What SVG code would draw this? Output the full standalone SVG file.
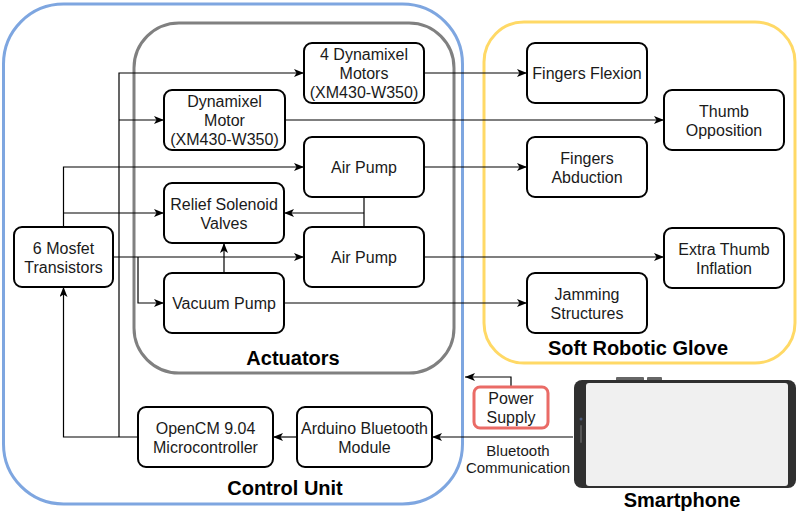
<svg xmlns="http://www.w3.org/2000/svg" width="803" height="512" viewBox="0 0 803 512">
<style>
.grp{fill:none;stroke-width:3}
.box{fill:#fff;stroke:#000;stroke-width:2}
.t{font-family:"Liberation Sans",Arial,sans-serif;font-size:16px;fill:#1a1a1a;text-anchor:middle}
.s{font-size:15px}
.b{font-family:"Liberation Sans",Arial,sans-serif;font-size:20px;font-weight:bold;fill:#000;text-anchor:middle}
.c{fill:none;stroke:#000;stroke-width:1.2}
.a{marker-end:url(#arr)}
</style>
<defs>
<marker id="arr" viewBox="0 0 10 8" refX="10" refY="4" markerWidth="10" markerHeight="8" markerUnits="userSpaceOnUse" orient="auto"><path d="M0,0 L10,4 L0,8 L2.5,4 z" fill="#000"/></marker>
</defs>

<g id="control-unit">
<rect class="grp" x="3.5" y="4" width="459" height="500" rx="60" stroke="#7EA6E0"/>
<text class="b" x="285" y="495">Control Unit</text>
</g>
<g id="actuators">
<rect class="grp" x="134" y="23" width="320" height="350" rx="45" stroke="#808080"/>
<text class="b" x="293" y="365">Actuators</text>
</g>
<g id="soft-robotic-glove">
<rect class="grp" x="484" y="22" width="311" height="341" rx="40" stroke="#FFD966"/>
<text class="b" x="638" y="355">Soft Robotic Glove</text>
</g>

<g id="connectors">
<path class="c a" d="M138,437 H63.5 V287"/>
<path class="c a" d="M119,437 V73 H304"/>
<path class="c a" d="M119,120 H164"/>
<path class="c a" d="M63.5,227 V167 H304"/>
<path class="c a" d="M63.5,213 H164"/>
<path class="c a" d="M113,257 H304"/>
<path class="c a" d="M138,257 V303 H164"/>
<path class="c a" d="M224,273 V243"/>
<path class="c" d="M364,197 V227"/>
<path class="c a" d="M364,213 H284"/>
<path class="c a" d="M424,73 H527"/>
<path class="c a" d="M285,120 H664"/>
<path class="c a" d="M424,167 H527"/>
<path class="c a" d="M424,257 H664"/>
<path class="c a" d="M284,303 H527"/>
<path class="c a" d="M297,437 H273"/>
<path class="c a" d="M573,437 H432"/>
<path class="c a" d="M511,387 V377 H465"/>
<text class="t s" x="518" y="456">Bluetooth</text>
<text class="t s" x="518" y="473">Communication</text>
</g>

<g id="dynamixel-4">
<rect class="box" x="304" y="43" width="120" height="60" rx="8"/>
<text class="t" x="364" y="59.5">4 Dynamixel</text>
<text class="t" x="364" y="78.5">Motors</text>
<text class="t" x="364" y="97.5">(XM430-W350)</text>
</g>
<g id="dynamixel-1">
<rect class="box" x="164" y="90" width="121" height="60" rx="8"/>
<text class="t" x="224.5" y="106.5">Dynamixel</text>
<text class="t" x="224.5" y="125.5">Motor</text>
<text class="t" x="224.5" y="144.5">(XM430-W350)</text>
</g>
<g id="air-pump-1">
<rect class="box" x="304" y="137" width="120" height="60" rx="8"/>
<text class="t" x="364" y="172.5">Air Pump</text>
</g>
<g id="relief-valves">
<rect class="box" x="164" y="183" width="120" height="60" rx="8"/>
<text class="t" x="224" y="209.5">Relief Solenoid</text>
<text class="t" x="224" y="228.5">Valves</text>
</g>
<g id="air-pump-2">
<rect class="box" x="304" y="227" width="120" height="60" rx="8"/>
<text class="t" x="364" y="262.5">Air Pump</text>
</g>
<g id="mosfet">
<rect class="box" x="14" y="227" width="99" height="60" rx="8"/>
<text class="t" x="63.5" y="253.5">6 Mosfet</text>
<text class="t" x="63.5" y="272.5">Transistors</text>
</g>
<g id="vacuum-pump">
<rect class="box" x="164" y="273" width="120" height="60" rx="8"/>
<text class="t" x="224" y="308.5">Vacuum Pump</text>
</g>
<g id="opencm">
<rect class="box" x="138" y="407" width="135" height="60" rx="8"/>
<text class="t" x="205.5" y="433.5">OpenCM 9.04</text>
<text class="t" x="205.5" y="452.5">Microcontroller</text>
</g>
<g id="arduino-bt">
<rect class="box" x="297" y="407" width="135" height="60" rx="8"/>
<text class="t" x="364.5" y="433.5" textLength="127" lengthAdjust="spacingAndGlyphs">Arduino Bluetooth</text>
<text class="t" x="364.5" y="452.5">Module</text>
</g>
<g id="fingers-flexion">
<rect class="box" x="527" y="43" width="120" height="60" rx="8"/>
<text class="t" x="587" y="78.5">Fingers Flexion</text>
</g>
<g id="thumb-opposition">
<rect class="box" x="664" y="90" width="120" height="60" rx="8"/>
<text class="t" x="724" y="116.5">Thumb</text>
<text class="t" x="724" y="135.5">Opposition</text>
</g>
<g id="fingers-abduction">
<rect class="box" x="527" y="137" width="120" height="60" rx="8"/>
<text class="t" x="587" y="163.5">Fingers</text>
<text class="t" x="587" y="182.5">Abduction</text>
</g>
<g id="extra-thumb">
<rect class="box" x="664" y="228" width="120" height="60" rx="8"/>
<text class="t" x="724" y="254.5">Extra Thumb</text>
<text class="t" x="724" y="273.5">Inflation</text>
</g>
<g id="jamming">
<rect class="box" x="527" y="273" width="120" height="60" rx="8"/>
<text class="t" x="587" y="299.5">Jamming</text>
<text class="t" x="587" y="318.5">Structures</text>
</g>
<g id="power-supply">
<rect x="474" y="387" width="74" height="41" rx="6" fill="#fff" stroke="#EA6B66" stroke-width="3"/>
<text class="t" x="511" y="403.5">Power</text>
<text class="t" x="511" y="422.5">Supply</text>
</g>
<g id="smartphone">
<rect x="616" y="377" width="28" height="4" rx="1" fill="#666"/>
<rect x="647" y="377" width="15" height="4" rx="1" fill="#666"/>
<rect x="574" y="380" width="222" height="108" rx="8" fill="#303030"/>
<rect x="586" y="383" width="202" height="103" rx="3" fill="#F0F0F0"/>
<circle cx="581" cy="419" r="1.5" fill="#4a5a7a"/>
<rect x="580" y="425" width="2" height="18" rx="1" fill="#555"/>
<text class="b" x="682" y="507">Smartphone</text>
</g>
</svg>
